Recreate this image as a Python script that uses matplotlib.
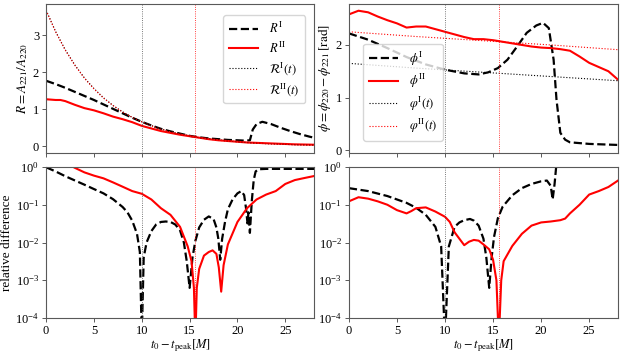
import matplotlib

matplotlib.use("Agg")
import matplotlib.pyplot as plt

plt.rcParams["font.family"] = ["Liberation Serif", "DejaVu Serif"]
plt.rcParams["mathtext.fontset"] = "stix"
plt.rcParams["font.size"] = 8

# ---- top left: amplitude ratio ----
t_RI = [0, 1, 2, 3, 4, 5, 6, 7, 8, 9, 10, 11, 12, 13, 14, 15, 16, 17, 18, 19, 20,
        20.8, 21.3, 21.6, 22, 22.6, 23.5, 24.5, 25.5, 26.5, 27.5, 28]
R_I = [1.77, 1.68, 1.58, 1.47, 1.36, 1.25, 1.13, 1.01, 0.89, 0.77, 0.66, 0.56, 0.47,
       0.40, 0.34, 0.28, 0.24, 0.21, 0.19, 0.17, 0.16, 0.15, 0.16, 0.45, 0.60, 0.66,
       0.60, 0.50, 0.41, 0.33, 0.26, 0.23]
t_RII = [0, 1, 1.5, 2, 3, 4, 5, 6, 7, 8, 9, 10, 11, 12, 13, 14, 15, 16, 17, 18, 19,
         20, 21, 22, 23, 24, 25, 26, 27, 28]
R_II = [1.27, 1.25, 1.25, 1.22, 1.12, 1.03, 0.97, 0.89, 0.80, 0.73, 0.65, 0.55, 0.48,
        0.41, 0.36, 0.31, 0.27, 0.23, 0.19, 0.16, 0.14, 0.12, 0.10, 0.09, 0.08, 0.07,
        0.06, 0.05, 0.045, 0.04]
t_fit = list(range(29))
Rfit_I = [3.68, 3.10, 2.61, 2.20, 1.85, 1.56, 1.31, 1.10, 0.93, 0.78, 0.66, 0.56, 0.47,
          0.39, 0.33, 0.28, 0.23, 0.20, 0.17, 0.14, 0.12, 0.10, 0.08, 0.07, 0.06, 0.05,
          0.04, 0.035, 0.03]
Rfit_II = [3.67, 3.09, 2.60, 2.19, 1.84, 1.55, 1.30, 1.10, 0.92, 0.78, 0.66, 0.55, 0.46,
           0.39, 0.33, 0.28, 0.23, 0.19, 0.16, 0.14, 0.12, 0.10, 0.08, 0.07, 0.06, 0.05,
           0.04, 0.035, 0.03]

# ---- top right: phase difference ----
t_phI = [0, 2, 4, 6, 8, 10, 12, 13.5, 14.5, 15.5, 16.5, 17.5, 18.5, 19.5, 20.2, 20.8,
         21.3, 21.6, 22, 22.5, 23, 25, 28]
phi_I = [2.22, 2.10, 1.94, 1.77, 1.63, 1.53, 1.46, 1.44, 1.48, 1.56, 1.72, 1.97, 2.23,
         2.37, 2.42, 2.32, 1.72, 0.96, 0.33, 0.20, 0.15, 0.12, 0.10]
t_phII = list(range(29))
phi_II = [2.58, 2.65, 2.62, 2.54, 2.47, 2.41, 2.33, 2.35, 2.35, 2.30, 2.25, 2.20, 2.15,
          2.11, 2.11, 2.09, 2.06, 2.03, 2.00, 1.97, 1.95, 1.94, 1.92, 1.89, 1.78, 1.66,
          1.58, 1.50, 1.34]
t_phfit = [0, 7, 14, 21, 28]
phfit_I = [1.65, 1.56, 1.48, 1.40, 1.32]
phfit_II = [2.25, 2.16, 2.08, 2.00, 1.91]

# ---- bottom left: relative difference of R ----
t_dRI = [0, 1, 2, 3, 4, 5, 6, 7, 8, 8.5, 9, 9.5, 9.8, 10, 10.2, 10.5, 11, 11.5, 12,
         12.5, 13, 13.5, 14, 14.4, 14.7, 15, 15.3, 15.6, 16, 16.5, 17, 17.5, 17.8, 18,
         18.2, 18.4, 18.7, 19, 19.5, 20, 20.4, 20.7, 20.9, 21.05, 21.15, 21.3, 21.5,
         21.7, 21.9, 22.2, 23, 25, 28]
dR_I = [0.98, 0.76, 0.57, 0.44, 0.34, 0.26, 0.20, 0.14, 0.087, 0.063, 0.038, 0.017,
        0.0056, 3e-5, 0.004, 0.01, 0.02, 0.030, 0.035, 0.036, 0.035, 0.030, 0.021,
        0.010, 0.0032, 0.00063, 0.004, 0.011, 0.025, 0.040, 0.049, 0.042, 0.025,
        0.0126, 0.0035, 0.0126, 0.035, 0.076, 0.14, 0.20, 0.23, 0.18, 0.079, 0.032,
        0.063, 0.018, 0.126, 0.45, 0.76, 0.87, 0.89, 0.89, 0.89]
t_dRII = [0, 1, 2, 3, 4, 5, 6, 7, 8, 9, 10, 11, 12, 13, 14, 14.8, 15.2, 15.45, 15.6,
          15.75, 16, 16.5, 17, 17.4, 17.8, 18.05, 18.3, 18.55, 19, 20, 21, 22, 23, 24,
          25, 26, 27, 28]
dR_II = [2.24, 1.78, 1.32, 0.95, 0.72, 0.59, 0.50, 0.39, 0.30, 0.23, 0.195, 0.138,
         0.081, 0.054, 0.026, 0.0079, 0.0032, 0.00063, 2.5e-5, 0.00063, 0.002, 0.0045,
         0.0056, 0.0062, 0.005, 0.0022, 0.0005, 0.0025, 0.0089, 0.035, 0.081, 0.138,
         0.186, 0.23, 0.355, 0.45, 0.51, 0.575]

# ---- bottom right: relative difference of phi ----
t_dpI = [0, 2, 4, 6, 7, 8, 9, 9.6, 10, 10.4, 11, 11.5, 12, 12.6, 13, 13.5, 14, 14.3,
         14.6, 14.85, 15.1, 15.5, 16, 17, 18, 19, 20, 20.6, 21, 21.2, 21.4, 21.6, 22, 28]
dp_I = [0.275, 0.23, 0.17, 0.112, 0.083, 0.054, 0.026, 0.0079, 2.5e-5, 0.0079, 0.026,
        0.034, 0.039, 0.042, 0.038, 0.028, 0.0126, 0.004, 0.00063, 0.004, 0.014, 0.044,
        0.089, 0.178, 0.275, 0.355, 0.417, 0.437, 0.316, 0.138, 0.355, 1.26, 3.2, 3.2]
t_dpII = [0, 1, 2, 3, 4, 5, 6, 6.5, 7, 8, 9, 10, 10.5, 11, 12, 12.5, 13, 13.5, 14,
          14.6, 15, 15.35, 15.6, 15.85, 16.1, 17, 18, 19, 20, 21, 22, 22.5, 23, 24, 25,
          26, 27, 28]
dp_II = [0.123, 0.158, 0.145, 0.123, 0.1, 0.072, 0.059, 0.068, 0.081, 0.085, 0.066,
         0.048, 0.035, 0.0186, 0.0085, 0.0105, 0.0117, 0.0112, 0.0089, 0.0066, 0.0035,
         0.001, 2.5e-5, 0.001, 0.0032, 0.0081, 0.017, 0.028, 0.034, 0.036, 0.039, 0.043,
         0.059, 0.1, 0.186, 0.23, 0.295, 0.437]

t_marks = [10, 15.6]
mark_colors = ["0.3", "red"]
xticks = [0, 5, 10, 15, 20, 25]

fig = plt.figure(figsize=(6.23, 3.53), dpi=100)
ax_R = fig.add_axes([0.074, 0.567, 0.430, 0.422])
ax_p = fig.add_axes([0.560, 0.567, 0.432, 0.422])
ax_dR = fig.add_axes([0.074, 0.099, 0.430, 0.428])
ax_dp = fig.add_axes([0.560, 0.099, 0.432, 0.428])

dash_kw = dict(color="black", ls="--", lw=1.6)
red_kw = dict(color="red", ls="-", lw=1.5)

ax_R.plot(t_RI, R_I, label=r"$R^{\rm I}$", **dash_kw)
ax_R.plot(t_RII, R_II, label=r"$R^{\rm II}$", **red_kw)
ax_R.plot(t_fit, Rfit_I, color="black", ls=":", lw=0.8, label=r"$\mathcal{R}^{\rm I}(t)$")
ax_R.plot(t_fit, Rfit_II, color="red", ls=":", lw=0.8, label=r"$\mathcal{R}^{\rm II}(t)$")
ax_R.set_ylim(-0.18, 3.85)
ax_R.set_ylabel(r"$R = A_{221}/A_{220}$", labelpad=2)

ax_p.plot(t_phI, phi_I, label=r"$\phi^{\rm I}$", **dash_kw)
ax_p.plot(t_phII, phi_II, label=r"$\phi^{\rm II}$", **red_kw)
ax_p.plot(t_phfit, phfit_I, color="black", ls=":", lw=0.8, label=r"$\varphi^{\rm I}(t)$")
ax_p.plot(t_phfit, phfit_II, color="red", ls=":", lw=0.8, label=r"$\varphi^{\rm II}(t)$")
ax_p.set_ylim(-0.05, 2.78)
ax_p.set_ylabel(r"$\phi = \phi_{220} - \phi_{221}\,[\mathrm{rad}]$", labelpad=2)

ax_dR.plot(t_dRI, dR_I, **dash_kw)
ax_dR.plot(t_dRII, dR_II, **red_kw)
ax_dR.set_ylabel("relative difference", labelpad=2)

ax_dp.plot(t_dpI, dp_I, **dash_kw)
ax_dp.plot(t_dpII, dp_II, **red_kw)

for ax in (ax_dR, ax_dp):
    ax.set_yscale("log")
    ax.set_ylim(1e-4, 1)
    ax.minorticks_off()
    ax.set_xlabel(r"$t_0 - t_{\rm peak}[M]$", labelpad=0)

for ax in (ax_R, ax_p, ax_dR, ax_dp):
    for tm, c in zip(t_marks, mark_colors):
        ax.axvline(tm, color=c, ls=":", lw=0.6)
    ax.set_xlim(0, 28)
    ax.set_xticks(xticks)
    ax.tick_params(labelsize=9, length=3, width=0.7, color="0.35", pad=2)
    for sp in ax.spines.values():
        sp.set_color("0.35")
    ax.yaxis.label.set_size(9.5)
    ax.xaxis.label.set_size(9)
for ax in (ax_R, ax_p):
    ax.set_xticklabels([])

leg_kw = dict(fontsize=9, handlelength=2.3, labelspacing=0.35, borderpad=0.45,
              handletextpad=0.9)
ax_R.legend(loc="upper right", bbox_to_anchor=(0.99, 0.965), **leg_kw)
ax_p.legend(loc="lower left", bbox_to_anchor=(0.03, 0.04), **leg_kw)

fig.savefig("out.png", dpi=100)
